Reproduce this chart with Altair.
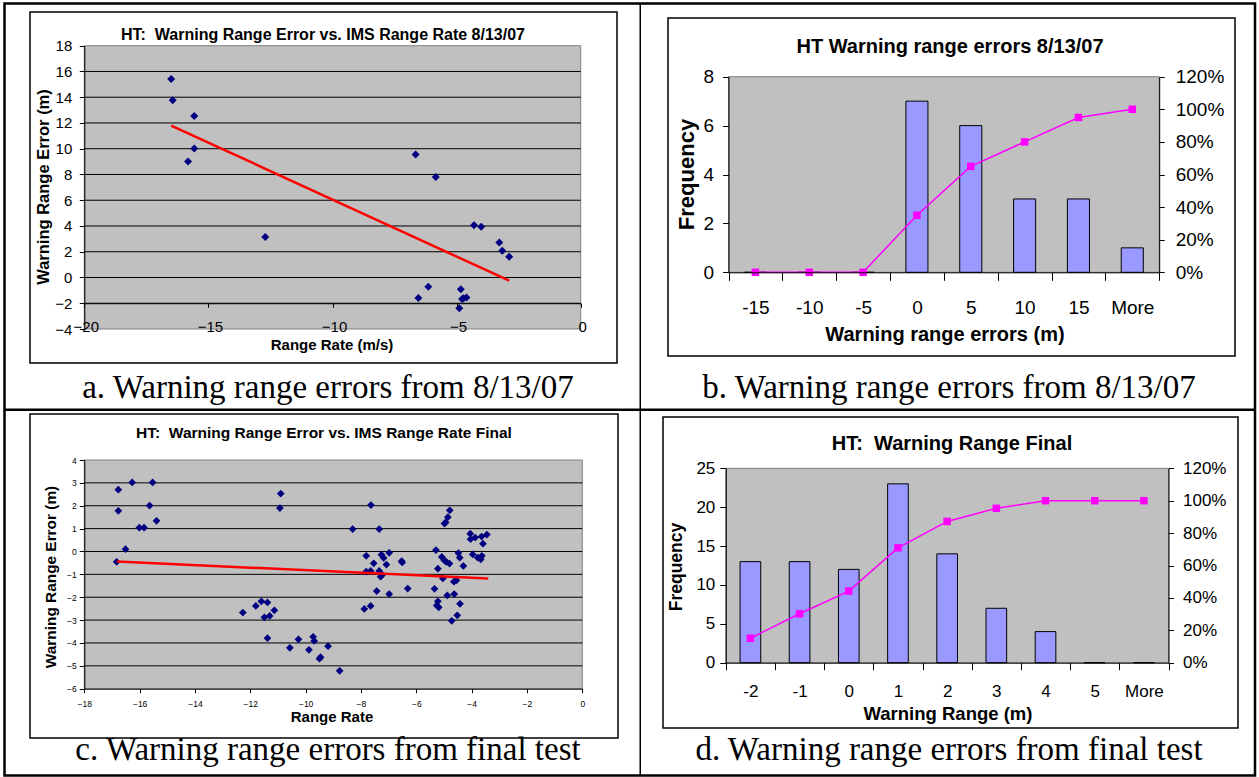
import altair as alt
import pandas as pd

W, H = 1259, 777
SANS = "Liberation Sans"
SERIF = "Liberation Serif"

# ---------------- data ----------------
# a. scatter 8/13/07
a_rate = [-16.50, -16.44, -15.57, -15.57, -15.82, -12.71, -6.65, -5.84, -4.30, -4.01,
          -3.28, -3.16, -2.88, -6.14, -6.54, -4.83, -4.78, -4.60, -4.89, -4.72]
a_err = [15.41, 13.76, 12.54, 10.02, 9.00, 3.15, 9.56, 7.80, 4.05, 3.95,
         2.72, 2.08, 1.62, -0.71, -1.59, -0.91, -1.67, -1.56, -2.39, -1.62]
a_trend_rate = [-16.5, -2.88]
a_trend_err = [11.8, -0.25]
a_xticks = [-20, -15, -10, -5, 0]
a_yticks = [-4, -2, 0, 2, 4, 6, 8, 10, 12, 14, 16, 18]
a_grid = [-2, 0, 2, 4, 6, 8, 10, 12, 14, 16]

# b. histogram 8/13/07
b_bins = ["-15", "-10", "-5", "0", "5", "10", "15", "More"]
b_freq = [0, 0, 0, 7, 6, 3, 3, 1]
b_cum = [0.0, 0.0, 0.0, 0.35, 0.65, 0.80, 0.95, 1.00]
b_freq_ticks = [0, 2, 4, 6, 8]
pct_ticks = [0, 0.2, 0.4, 0.6, 0.8, 1.0, 1.2]

# c. scatter final
c_rate = [-16.77, -16.77, -16.27, -15.53, -15.64, -16.01, -15.84, -15.39, -16.51, -16.83,
          -10.90, -10.93,
          -12.27, -11.80, -11.60, -11.38, -11.49, -11.30, -11.13, -11.38, -10.57, -10.26,
          -9.88, -9.73, -9.69, -9.50, -9.46, -9.19, -8.77,
          -8.30, -7.64, -7.34, -7.81, -7.54, -7.26, -7.18, -6.98, -7.08, -6.53, -6.51,
          -7.81, -7.65, -7.34, -7.29, -7.23, -7.43, -6.98, -6.31, -7.88, -7.65,
          -5.29, -4.79, -4.86, -4.94, -4.98, -4.05, -4.04, -3.87, -3.45, -3.64, -3.59,
          -3.96, -3.78, -3.63, -3.67, -5.08, -4.99, -4.80, -4.48, -4.43, -4.30,
          -5.22, -5.04, -4.64, -4.55, -5.34, -5.22, -5.19, -5.26, -4.88, -4.63,
          -4.42, -4.52, -4.72, -4.92]
c_err = [2.70, 1.78, 3.02, 3.02, 2.01, 1.04, 1.04, 1.34, 0.10, -0.45,
         2.53, 1.90,
         -2.67, -2.38, -2.18, -2.23, -2.88, -2.82, -2.57, -3.79, -4.21, -3.84,
         -4.30, -3.73, -3.91, -4.69, -4.62, -4.14, -5.22,
         0.98, 2.03, 0.98, -0.19, -0.52, -0.14, -0.28, -0.06, -0.57, -0.42, -0.48,
         -0.88, -0.85, -0.85, -1.10, -1.02, -1.73, -1.86, -1.62, -2.51, -2.38,
         0.06, 1.80, 1.50, 1.27, 1.22, 0.78, 0.54, 0.61, 0.74, 0.65, 0.34,
         -0.13, -0.27, -0.19, -0.34, -0.24, -0.38, -0.53, -0.07, -0.27, -0.63,
         -0.75, -1.18, -1.32, -1.26, -1.63, -2.18, -2.44, -2.36, -1.92, -1.86,
         -2.29, -2.79, -3.03, -0.45]
c_trend_rate = [-16.82, -3.40]
c_trend_err = [-0.44, -1.18]
c_xticks = [-18, -16, -14, -12, -10, -8, -6, -4, -2, 0]
c_yticks = [-6, -5, -4, -3, -2, -1, 0, 1, 2, 3, 4]
c_grid = [-5, -4, -3, -2, -1, 0, 1, 2, 3]

# d. histogram final
d_bins = ["-2", "-1", "0", "1", "2", "3", "4", "5", "More"]
d_freq = [13, 13, 12, 23, 14, 7, 4, 0, 0]
d_cum = [0.151, 0.302, 0.442, 0.709, 0.872, 0.953, 1.0, 1.0, 1.0]
d_freq_ticks = [0, 5, 10, 15, 20, 25]

# ---------------- layout (pixels) ----------------
A = (84.3, 580.7, 45.7, 329.0)    # x0, x1, ytop, ybottom of plot area
B = (728.5, 1159.2, 76.7, 272.3)
C = (84.3, 582.3, 460.0, 688.7)
D = (725.8, 1168.5, 468.3, 662.7)

GRAY = "#C0C0C0"
BORDER = "#808080"
NAVY = "#000080"
MAGENTA = "#FF00FF"
BAR = "#9999FF"


def one():
    return pd.DataFrame({"k": [0]})


def rect(x0, x1, y0, y1, fill="#ffffff", fill_opacity=1.0, stroke="black", sw=1.0):
    return alt.Chart(one()).mark_rect(
        fill=fill, fillOpacity=fill_opacity, stroke=stroke, strokeWidth=sw
    ).encode(x=alt.value(x0), x2=alt.value(x1), y=alt.value(y0), y2=alt.value(y1))


def text(t, x, y, size, bold=False, angle=0, font=SANS, baseline="alphabetic"):
    return alt.Chart(pd.DataFrame({"t": [t]})).mark_text(
        font=font, fontSize=size, fontWeight="bold" if bold else "normal",
        angle=angle, align="center", baseline=baseline, color="black"
    ).encode(text="t:N", x=alt.value(x), y=alt.value(y))


def axis(orient, offset, values, size, tick, pad, fmt=None, band=None, label_offset=0):
    kw = dict(orient=orient, offset=offset, values=values, labelFontSize=size,
              labelFont=SANS, labelColor="black", tickSize=tick, tickColor="black",
              domainColor="black", labelPadding=pad, grid=False, title=None,
              labelFlush=False, labelOverlap=False, zindex=1)
    if label_offset:
        kw["labelOffset"] = label_offset
    if fmt:
        kw["format"] = fmt
    if band:
        kw["tickBand"] = band
        kw["labelAngle"] = 0
        kw["labelAlign"] = "center"
        kw["labelBaseline"] = "top"
    return alt.Axis(**kw)


layers = []

# ---------------- table and frames ----------------
layers += [
    rect(4.5, 1255, 3.5, 775.5, fill_opacity=0, sw=2.5),
    rect(639.5, 641, 3, 776, fill="black", sw=0),
    rect(4, 1255, 408.5, 411, fill="black", sw=0),
    rect(30, 617, 12, 363, fill_opacity=0, sw=1.5),
    rect(668, 1235, 18, 356, fill_opacity=0, sw=1.5),
    rect(30, 618, 414, 738, fill_opacity=0, sw=1.5),
    rect(663, 1238, 417, 728, fill_opacity=0, sw=1.5),
]

# ---------------- panel a ----------------
xa = alt.Scale(domain=[-20, 0], range=[A[0], A[1]], nice=False, zero=False)
ya = alt.Scale(domain=[-4, 18], range=[A[3], A[2]], nice=False, zero=False)
df_a = pd.DataFrame({"rate": a_rate, "err": a_err})
df_at = pd.DataFrame({"rate": a_trend_rate, "err": a_trend_err})
a_axis_y_px = A[2] + (18 - (-2)) / 22 * (A[3] - A[2])
layers += [
    rect(A[0], A[1], A[2], A[3], fill=GRAY, stroke=BORDER, sw=1),
    alt.Chart(pd.DataFrame({"g": a_grid})).mark_rule(color="black", strokeWidth=1).encode(
        y=alt.Y("g:Q", scale=ya, axis=None), x=alt.value(A[0]), x2=alt.value(A[1])),
    alt.Chart(df_a).mark_point(shape="diamond", filled=True, size=64, color=NAVY, opacity=1).encode(
        x=alt.X("rate:Q", scale=xa,
                axis=axis("bottom", a_axis_y_px - H, a_xticks, 15, 4, 12, label_offset=1.5)),
        y=alt.Y("err:Q", scale=ya, axis=axis("left", -A[0], a_yticks, 15, 5, 7.5))),
    alt.Chart(df_at).mark_line(color="#FF0000", strokeWidth=2.5).encode(
        x=alt.X("rate:Q", scale=xa, axis=None), y=alt.Y("err:Q", scale=ya, axis=None)),
]

# ---------------- panel b ----------------
xb = alt.Scale(type="band", domain=b_bins, range=[B[0], B[1]], paddingInner=0, paddingOuter=0)
yb = alt.Scale(domain=[0, 8], range=[B[3], B[2]], nice=False, zero=True)
yb2 = alt.Scale(domain=[0, 1.2], range=[B[3], B[2]], nice=False, zero=True)
df_b = pd.DataFrame({"bin": b_bins, "freq": b_freq, "cum": b_cum})
layers += [
    rect(B[0], B[1], B[2], B[3], fill=GRAY, stroke=BORDER, sw=1),
    alt.Chart(df_b).mark_bar(width=alt.RelativeBandSize(0.41), fill=BAR, stroke="black", strokeWidth=1).encode(
        x=alt.X("bin:N", scale=xb, axis=axis("bottom", B[3] - H, b_bins, 19, 8, 18, band="extent")),
        y=alt.Y("freq:Q", scale=yb, axis=axis("left", -B[0], b_freq_ticks, 19, 6, 9))),
    alt.Chart(df_b).mark_line(color=MAGENTA, strokeWidth=1.5,
                              point=alt.OverlayMarkDef(shape="square", size=56, filled=True, color=MAGENTA)).encode(
        x=alt.X("bin:N", scale=xb, axis=None),
        y=alt.Y("cum:Q", scale=yb2, axis=axis("right", B[1] - W, pct_ticks, 19, 5, 11, fmt=".0%"))),
]

# ---------------- panel c ----------------
xc = alt.Scale(domain=[-18, 0], range=[C[0], C[1]], nice=False, zero=False)
yc = alt.Scale(domain=[-6, 4], range=[C[3], C[2]], nice=False, zero=False)
df_c = pd.DataFrame({"rate": c_rate, "err": c_err})
df_ct = pd.DataFrame({"rate": c_trend_rate, "err": c_trend_err})
layers += [
    rect(C[0], C[1], C[2], C[3], fill=GRAY, stroke=BORDER, sw=1),
    alt.Chart(pd.DataFrame({"g": c_grid})).mark_rule(color="black", strokeWidth=1).encode(
        y=alt.Y("g:Q", scale=yc, axis=None), x=alt.value(C[0]), x2=alt.value(C[1])),
    alt.Chart(df_c).mark_point(shape="diamond", filled=True, size=60, color=NAVY, opacity=1).encode(
        x=alt.X("rate:Q", scale=xc, axis=axis("bottom", C[3] - H, c_xticks, 8.5, 4, 7)),
        y=alt.Y("err:Q", scale=yc, axis=axis("left", -C[0], c_yticks, 8.5, 5, 3))),
    alt.Chart(df_ct).mark_line(color="#FF0000", strokeWidth=2.5).encode(
        x=alt.X("rate:Q", scale=xc, axis=None), y=alt.Y("err:Q", scale=yc, axis=None)),
]

# ---------------- panel d ----------------
xd = alt.Scale(type="band", domain=d_bins, range=[D[0], D[1]], paddingInner=0, paddingOuter=0)
yd = alt.Scale(domain=[0, 25], range=[D[3], D[2]], nice=False, zero=True)
yd2 = alt.Scale(domain=[0, 1.2], range=[D[3], D[2]], nice=False, zero=True)
df_d = pd.DataFrame({"bin": d_bins, "freq": d_freq, "cum": d_cum})
layers += [
    rect(D[0], D[1], D[2], D[3], fill=GRAY, stroke=BORDER, sw=1),
    alt.Chart(df_d).mark_bar(width=alt.RelativeBandSize(0.42), fill=BAR, stroke="black", strokeWidth=1).encode(
        x=alt.X("bin:N", scale=xd, axis=axis("bottom", D[3] - H, d_bins, 17, 7, 14, band="extent")),
        y=alt.Y("freq:Q", scale=yd, axis=axis("left", -D[0], d_freq_ticks, 17, 6, 5))),
    alt.Chart(df_d).mark_line(color=MAGENTA, strokeWidth=1.5,
                              point=alt.OverlayMarkDef(shape="square", size=56, filled=True, color=MAGENTA)).encode(
        x=alt.X("bin:N", scale=xd, axis=None),
        y=alt.Y("cum:Q", scale=yd2, axis=axis("right", D[1] - W, pct_ticks, 17, 5, 9, fmt=".0%"))),
]

# ---------------- texts ----------------
layers += [
    text("HT:\u00a0 Warning Range Error vs. IMS Range Rate 8/13/07", 323, 40, 16, bold=True),
    text("Warning Range Error (m)", 44, 187, 16.5, bold=True, angle=270, baseline="middle"),
    text("Range Rate (m/s)", 332, 350, 15, bold=True),
    text("HT Warning range errors 8/13/07", 950, 53, 20, bold=True),
    text("Frequency", 687, 174.5, 22, bold=True, angle=270, baseline="middle"),
    text("Warning range errors (m)", 945, 341, 20, bold=True),
    text("HT:\u00a0 Warning Range Error vs. IMS Range Rate Final", 324, 438, 15.5, bold=True),
    text("Warning Range Error (m)", 50.6, 577, 15.4, bold=True, angle=270, baseline="middle"),
    text("Range Rate", 332, 722, 15, bold=True),
    text("HT:\u00a0 Warning Range Final", 952, 450, 20, bold=True),
    text("Frequency", 677, 567, 17.5, bold=True, angle=270, baseline="middle"),
    text("Warning Range (m)", 948, 720, 18.5, bold=True),
    text("a. Warning range errors from 8/13/07", 328, 398, 33, font=SERIF),
    text("b. Warning range errors from 8/13/07", 949, 398, 33, font=SERIF),
    text("c. Warning range errors from final test", 328, 760, 33, font=SERIF),
    text("d. Warning range errors from final test", 949, 760, 33, font=SERIF),
]

chart = alt.layer(*layers).resolve_scale(
    x="independent", y="independent"
).properties(
    width=W, height=H, autosize=alt.AutoSizeParams(type="none"), padding=0,
    background="white"
).configure_view(stroke=None)

chart.save("out.html", embed_options={"renderer": "svg", "actions": False})
